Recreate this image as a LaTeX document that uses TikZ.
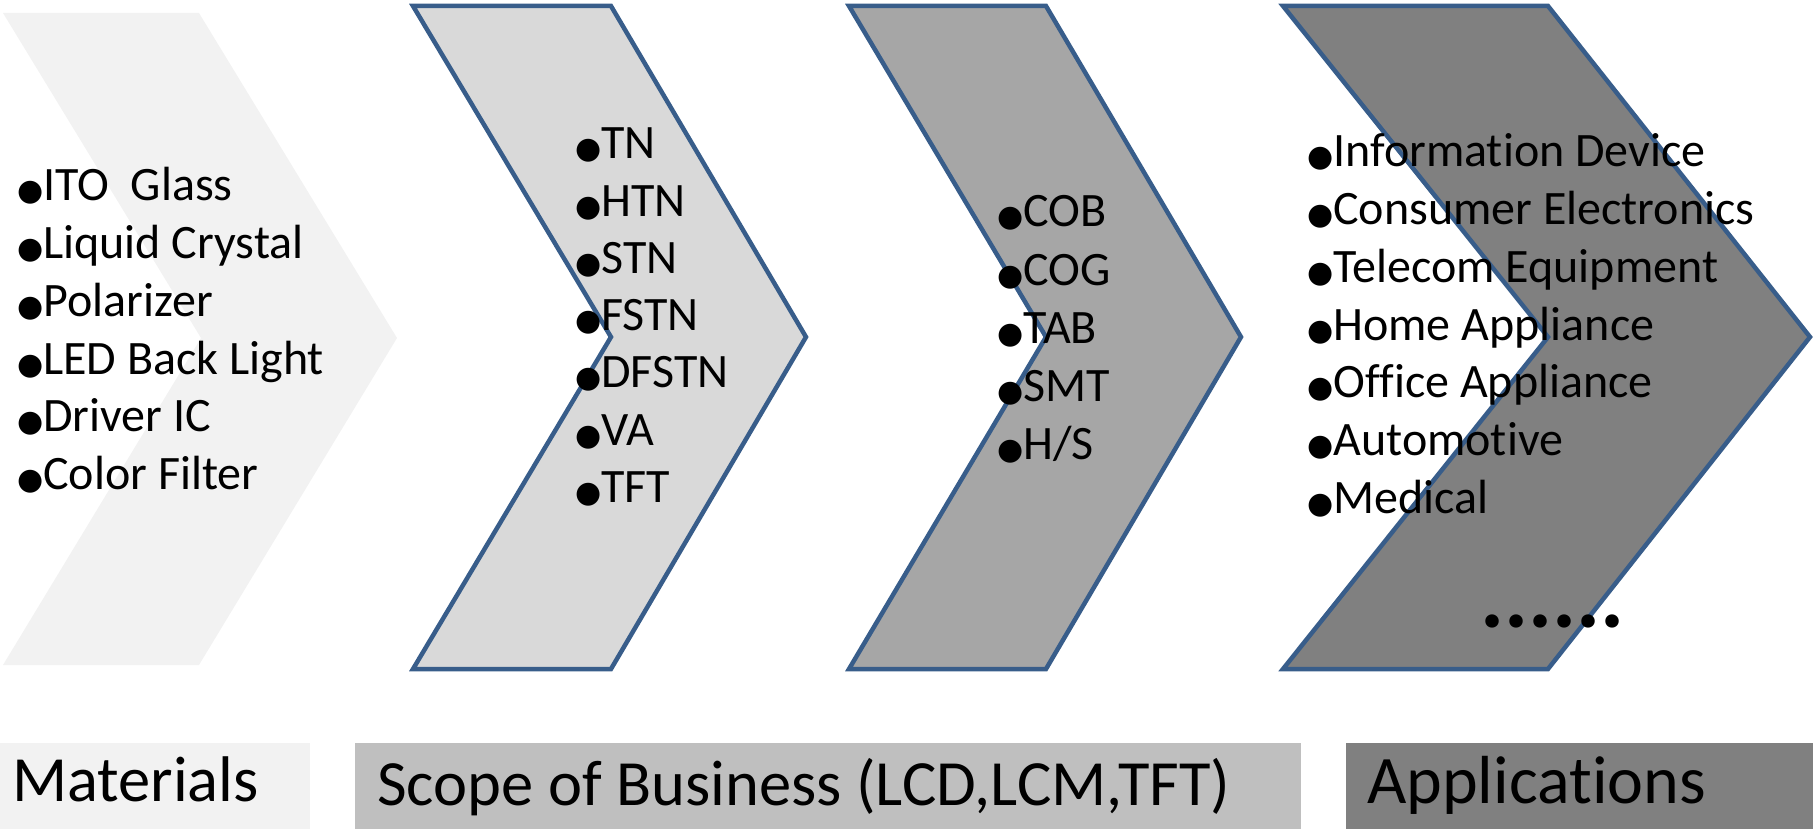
\documentclass[tikz,border=0pt]{standalone}
\usepackage{fontspec}
\setmainfont{Carlito}[Ligatures={NoCommon,NoRare,NoContextual}]
\newfontfamily\bulfont{DejaVu Sans}
\definecolor{edgeblue}{HTML}{385D8A}
\definecolor{matgray}{HTML}{F2F2F2}
\definecolor{lcdgray}{HTML}{D9D9D9}
\definecolor{lcmgray}{HTML}{A6A6A6}
\definecolor{appgray}{HTML}{808080}
\definecolor{bizgray}{HTML}{BFBFBF}
\newcommand{\bul}{{\bulfont\fontsize{30}{30}\selectfont ●}\kern0pt}

\begin{document}
\begin{tikzpicture}[x=1pt,y=-1pt,
    chev/.style={draw=edgeblue, line width=4.5pt},
    item/.style={anchor=base west, inner sep=0pt, font=\fontsize{48}{55}\selectfont},
    lbl/.style={anchor=base west, inner sep=0pt, font=\fontsize{64.5}{70}\selectfont}]
			\useasboundingbox (0,0) rectangle (1813,829);
			
			% chevrons
			\fill[matgray] (3,13) -- (199,13) -- (397,338) -- (199,665) -- (3,665) -- (201,338) -- cycle;
			\draw[chev, fill=lcdgray] (413,6) -- (611,6) -- (806,337) -- (611,669) -- (413,669) -- (611,337) -- cycle;
			\draw[chev, fill=lcmgray] (849,6) -- (1046,6) -- (1241,337) -- (1046,669) -- (849,669) -- (1046,337) -- cycle;
			\draw[chev, fill=appgray] (1283,6) -- (1548,6) -- (1810,337) -- (1548,669) -- (1283,669) -- (1548,337) -- cycle;
			
			% lists
			\foreach \t [count=\i] in {ITO~ Glass,Liquid Crystal,Polarizer,LED Back Light,Driver IC,Color Filter}
				\node[item] (mat\i) at (17,{201+57.7*(\i-1)}) {\bul\t};
			\foreach \t [count=\i] in {TN,HTN,STN,FSTN,DFSTN,VA,TFT}
				\node[item] (lcd\i) at (575,{159+57.2*(\i-1)}) {\bul\t};
			\foreach \t [count=\i] in {COB,COG,TAB,SMT,H/S}
				\node[item] (lcm\i) at (997,{227+58*(\i-1)}) {\bul\t};
			\foreach \t [count=\i] in {Information Device,Consumer Electronics,Telecom Equipment,Home Appliance,Office Appliance,Automotive,Medical}
				\node[item] (app\i) at (1307,{167+57.7*(\i-1)}) {\bul\t};
			\node[item, font=\fontsize{90}{90}\selectfont\bfseries] (more) at (1480,627) {......};
			
			% captions
			\fill[matgray] (0,743) rectangle (310,829);
			\fill[bizgray] (355,743) rectangle (1301,829);
			\fill[appgray] (1346,743) rectangle (1813,829);
			\node[lbl] (materials) at (12,801) {Materials};
			\node[lbl] (scope) at (377,805) {Scope of Business (LCD,LCM,TFT)};
			\node[lbl, font=\fontsize{68}{70}\selectfont] (applications) at (1367,803) {Applications};
		\end{tikzpicture}
\end{document}
